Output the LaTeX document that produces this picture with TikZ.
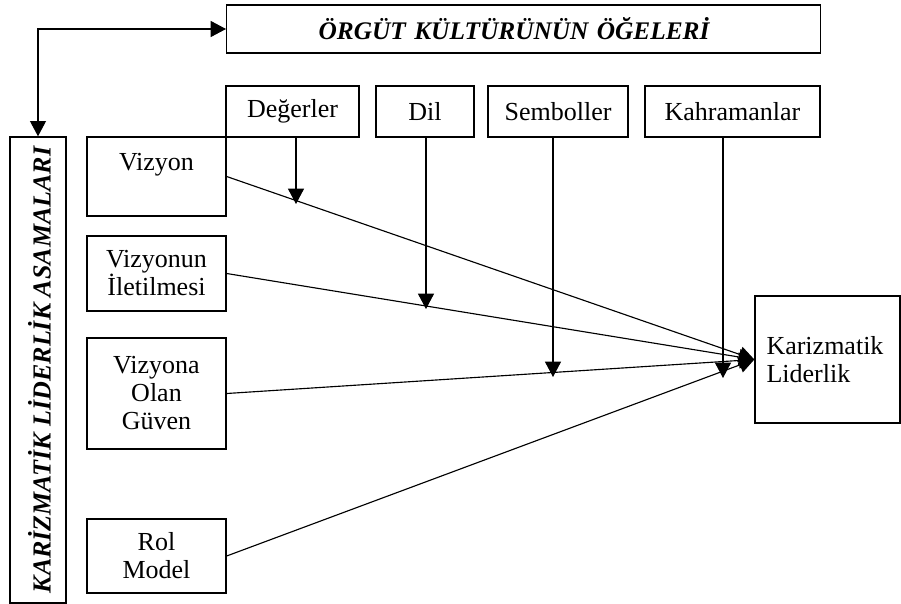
\documentclass[tikz,border=0pt]{standalone}
\usepackage{fontspec}
\setmainfont{Liberation Serif}
\usetikzlibrary{arrows.meta}
\newdimen\pxu \pxu=0.75pt
\begin{document}
\begin{tikzpicture}[x=0.75pt,y=-0.75pt,
  font=\fontsize{19.5}{21}\selectfont,
  box/.style={draw, line width=1pt, inner sep=0pt, align=center},
  conn/.style={line width=0.85pt, -{Triangle[length=11.5pt,width=12pt]}},
  dconn/.style={line width=0.85pt, {Triangle[length=11.5pt,width=12pt]}-{Triangle[length=11.5pt,width=12pt]}}]
\useasboundingbox (0,0) rectangle (901,604);
% top title
\node[box, anchor=west, text width=410\pxu, inner xsep=92\pxu, minimum height=48\pxu, align=left,
      font=\fontsize{19}{21}\selectfont\bfseries\itshape] (top) at (226,29) {ÖRGÜT KÜLTÜRÜNÜN ÖĞELERİ};
% left vertical box
\node[box, rotate=90, minimum width=466\pxu, minimum height=56\pxu, text height=25\pxu, text depth=0pt,
      font=\fontsize{19.5}{21}\selectfont\bfseries\itshape] (lb) at (38,370) {KARİZMATİK LİDERLİK ASAMALARI};
% culture elements
\node[box, minimum width=133\pxu, minimum height=51\pxu] (deg) at (292.5,111.5) {Değerler};
\node[box, minimum width=98\pxu, minimum height=51\pxu] (dil) at (425,111.5) {Dil};
\node[box, minimum width=140\pxu, minimum height=51\pxu] (sem) at (558,111.5) {Semboller};
\node[box, minimum width=175\pxu, minimum height=51\pxu] (kah) at (732.5,111.5) {Kahramanlar};
% stages
\node[box, minimum width=139\pxu, minimum height=79\pxu, text depth=30\pxu] (viz) at (156.5,176.5) {Vizyon};
\node[box, minimum width=139\pxu, minimum height=75\pxu] (vil) at (156.5,273.5) {Vizyonun\\İletilmesi};
\node[box, minimum width=139\pxu, minimum height=111\pxu] (vog) at (156.5,393.5) {Vizyona\\Olan\\Güven};
\node[box, minimum width=139\pxu, minimum height=74\pxu] (rol) at (156.5,556) {Rol\\Model};
% outcome
\node[box, minimum width=145\pxu, minimum height=127\pxu, text width=122\pxu, align=left, inner xsep=11.5\pxu] (kl) at (827.5,359.5) {Karizmatik\\Liderlik};
% connector top <-> left box
\draw[dconn] (lb.east) |- (top.west);
% main arrows
\draw[conn] (viz.east) -- (kl.west);
\draw[conn] (vil.east) -- (kl.west);
\draw[conn] (vog.east) -- (kl.west);
\draw[conn] (rol.east) -- (kl.west);
% moderating arrows
\coordinate (d0) at (296,137); \coordinate (d1) at (296,204);
\coordinate (l0) at (426,137); \coordinate (l1) at (426,309);
\coordinate (s0) at (553,137); \coordinate (s1) at (553,377);
\coordinate (k0) at (723,137); \coordinate (k1) at (723,378);
\draw[conn] (d0) -- (d1);
\draw[conn] (l0) -- (l1);
\draw[conn] (s0) -- (s1);
\draw[conn] (k0) -- (k1);
\end{tikzpicture}
\end{document}
